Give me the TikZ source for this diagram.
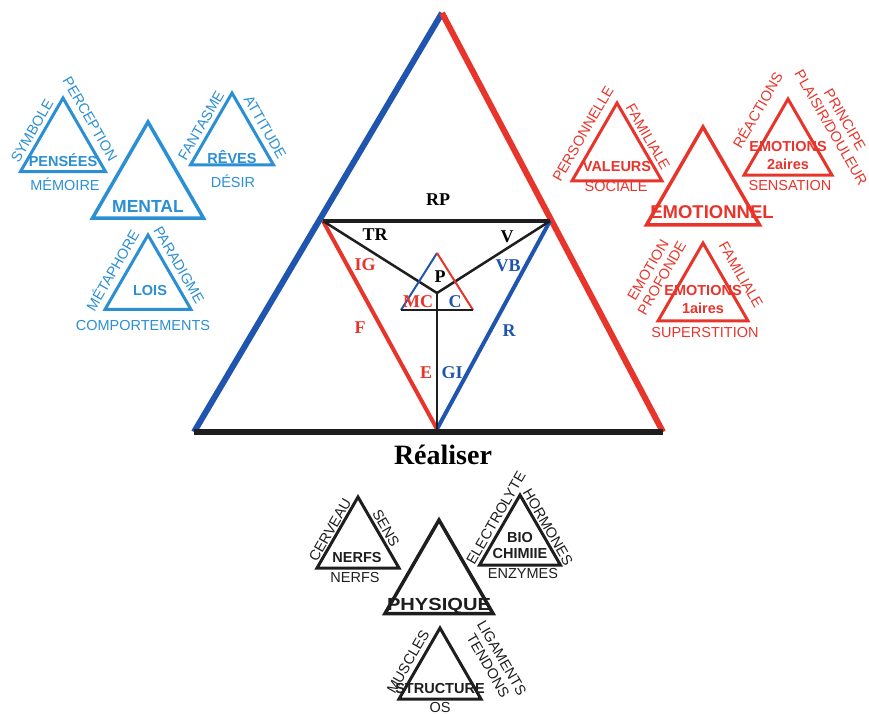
\documentclass[tikz,border=0pt]{standalone}
\usepackage{fontspec}
\setmainfont{Liberation Serif}
\setsansfont{Liberation Sans}
\usetikzlibrary{positioning}
\definecolor{mblue}{HTML}{2B8FD3}
\definecolor{dblue}{HTML}{1F55AE}
\definecolor{tred}{HTML}{E8352B}
\definecolor{ink}{HTML}{1E1E1E}

% equilateral triangle from its apex: style, x, y, side
\newcommand{\trig}[4]{\draw[#1] (#2,#3) -- ++({-#4/2},{0.866*#4}) -- ++(#4,0) -- cycle;}

\begin{document}
\begin{tikzpicture}[x=1pt, y=-1pt,
  tri/.style={line width=3pt, line join=miter},
  lbl/.style={font=\sffamily\fontsize{14.5}{16}\selectfont, inner sep=0pt, align=center},
  ttl/.style={font=\sffamily\bfseries\fontsize{14.5}{16}\selectfont, inner sep=0pt, align=center},
  big/.style={font=\sffamily\bfseries\fontsize{17.5}{19}\selectfont, inner sep=0pt},
  ctr/.style={font=\bfseries\fontsize{18}{20}\selectfont, inner sep=0pt}]
  \useasboundingbox (0,0) rectangle (869,713);

  % main triangle
  \coordinate (top) at (442,13);
  \coordinate (bl) at (194,432);
  \coordinate (br) at (663,432);
  \coordinate (ia) at (323,221);
  \coordinate (ib) at (550,221);
  \coordinate (id) at (437,429);
  \coordinate (pa) at (437,253);
  \coordinate (pl) at (401,310);
  \coordinate (pr) at (473,310);
  \coordinate (po) at (437,293);

  \draw[line width=6pt, dblue] (bl) -- (top);
  \draw[line width=6pt, tred] (top) -- (br);
  \draw[line width=3.5pt, ink] (ia) -- (ib);
  \draw[line width=4pt, tred] (ia) -- (id);
  \draw[line width=4pt, dblue] (ib) -- (id);
  \draw[line width=2.5pt, ink] (ia) -- (po) -- (ib);
  \draw[line width=2.5pt, ink] (po) -- (id);
  \draw[line width=2pt, dblue] (pl) -- (pa);
  \draw[line width=2pt, tred] (pa) -- (pr);
  \draw[line width=2pt, ink] (pl) -- (pr);
  \draw[line width=6pt, ink] (bl) -- (br);

  \node[ctr] (rp) at (438,200) {RP};
  \node[ctr] (tr) at (375,235) {TR};
  \node[ctr] (v) at (507,237) {V};
  \node[ctr, tred] (ig) at (365,265) {IG};
  \node[ctr, dblue] (vb) at (508,266) {VB};
  \node[ctr] (p) at (440,277) {P};
  \node[ctr, tred] (mc) at (418,302) {MC};
  \node[ctr, dblue] (c) at (455,302) {C};
  \node[ctr, tred] (f) at (360,328) {F};
  \node[ctr, dblue] (r) at (509,331) {R};
  \node[ctr, tred] (e) at (426,373) {E};
  \node[ctr, dblue] (gi) at (452,373) {GI};
  \node[font=\bfseries\fontsize{28}{30}\selectfont, inner sep=0pt] (realiser) at (443,455) {Réaliser};

  % mental
  \begin{scope}[mblue]
    \trig{tri}{63}{98}{85}
    \trig{tri, line width=3.5pt}{148}{122}{111}
    \trig{tri}{232}{93}{83}
    \trig{tri}{148}{235}{86}
    \node[ttl] (pensees) at (63,160) {PENSÉES};
    \node[lbl] (memoire) at (65,184) {MÉMOIRE};
    \node[lbl, rotate=60] (symbole) at (32,131) {SYMBOLE};
    \node[lbl, rotate=-60] (perception) at (90,119) {PERCEPTION};
    \node[big] (mental) at (148,206) {MENTAL};
    \node[ttl] (reves) at (232,157) {RÊVES};
    \node[lbl] (desir) at (233,181) {DÉSIR};
    \node[lbl, rotate=60] (fantasme) at (201,126) {FANTASME};
    \node[lbl, rotate=-60] (attitude) at (265,127) {ATTITUDE};
    \node[ttl] (lois) at (150,290) {LOIS};
    \node[lbl] (comport) at (143,325) {COMPORTEMENTS};
    \node[lbl, rotate=60] (metaphore) at (112,270) {MÉTAPHORE};
    \node[lbl, rotate=-60] (paradigme) at (179,265) {PARADIGME};
  \end{scope}

  % emotionnel
  \begin{scope}[tred]
    \trig{tri}{617}{103}{90}
    \trig{tri}{788}{99}{88}
    \trig{tri, line width=3.5pt}{703}{127}{113}
    \trig{tri}{703}{243}{90}
    \node[ttl] (valeurs) at (617,167) {VALEURS};
    \node[lbl] (sociale) at (616,187) {SOCIALE};
    \node[lbl, rotate=60] (perso) at (583,134) {PERSONNELLE};
    \node[lbl, rotate=-60] (famil) at (648,137) {FAMILIALE};
    \node[ttl, font=\sffamily\bfseries\fontsize{14.5}{18}\selectfont] (emo2) at (788,156) {EMOTIONS\\2aires};
    \node[lbl] (sensation) at (790,186) {SENSATION};
    \node[lbl, rotate=60] (reactions) at (757,110) {RÉACTIONS};
    \node[lbl, rotate=-60] (principe) at (838,124) {PRINCIPE\\PLAISIR/DOULEUR};
    \node[big, font=\sffamily\bfseries\fontsize{18.5}{20}\selectfont] (emotionnel) at (712,212) {EMOTIONNEL};
    \node[ttl, font=\sffamily\bfseries\fontsize{14.5}{18}\selectfont] (emo1) at (703,299) {EMOTIONS\\1aires};
    \node[lbl] (superstition) at (705,332) {SUPERSTITION};
    \node[lbl, rotate=60] (profonde) at (655,274) {EMOTION\\PROFONDE};
    \node[lbl, rotate=-60] (famil2) at (741,275) {FAMILIALE};
  \end{scope}

  % physique
  \begin{scope}[ink]
    \trig{tri}{358}{497}{82}
    \trig{tri, line width=3.5pt}{439}{520}{108}
    \trig{tri}{520}{495}{81}
    \trig{tri}{440}{628}{82}
    \node[ttl] (nerfs) at (357,557) {NERFS};
    \node[lbl] (nerfs2) at (355,577) {NERFS};
    \node[lbl, rotate=60] (cerveau) at (330,530) {CERVEAU};
    \node[lbl, rotate=-60] (sens) at (386,528) {SENS};
    \node[big, xscale=1.15] (physique) at (439,606) {PHYSIQUE};
    \node[ttl] (bio) at (520,545) {BIO\\CHIMIIE};
    \node[lbl] (enzymes) at (523,573) {ENZYMES};
    \node[lbl, rotate=60] (electro) at (496,518) {ELECTROLYTE};
    \node[lbl, rotate=-60] (hormones) at (548,527) {HORMONES};
    \node[ttl] (structure) at (440,688) {STRUCTURE};
    \node[lbl] (os) at (440,707) {OS};
    \node[lbl, rotate=60] (muscles) at (408,662) {MUSCLES};
    \node[lbl, rotate=-60] (ligaments) at (495,662) {LIGAMENTS\\TENDONS};
  \end{scope}
\end{tikzpicture}
\end{document}
